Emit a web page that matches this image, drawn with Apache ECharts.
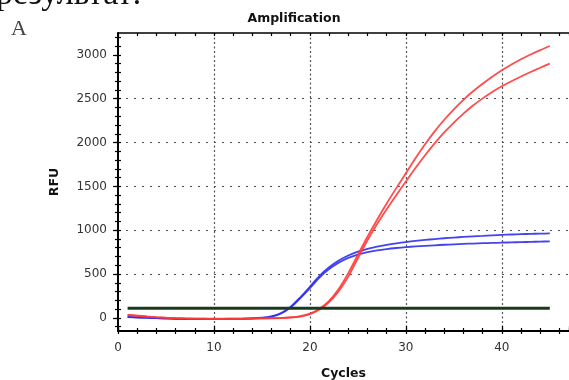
<!DOCTYPE html>
<html><head><meta charset="utf-8">
<script src="https://cdn.jsdelivr.net/npm/echarts@6/dist/echarts.min.js"></script>
<style>html,body{margin:0;padding:0;background:#fff}#c{width:569px;height:380px}</style>
</head><body><div id="c"></div>
<script>
const cycles = [1,2,3,4,5,6,7,8,9,10,11,12,13,14,15,16,17,18,19,20,21,22,23,24,25,26,27,28,29,30,31,32,33,34,35,36,37,38,39,40,41,42,43,44,45];
const blueUpper = [10,6,2,-3,-7,-10,-12,-13,-14,-14,-13,-12,-10,-6,2,18,55,128,235,355,480,578,655,712,755,788,813,833,850,865,878,889,899,908,916,923,930,936,942,947,951,955,958,961,963];
const blueLower = [8,4,0,-4,-8,-11,-13,-14,-15,-15,-14,-13,-11,-7,0,15,50,120,225,340,460,556,630,684,722,750,770,785,797,807,815,822,828,834,839,844,848,852,855,858,861,864,867,870,872];
const redUpper = [35,26,16,8,2,-3,-6,-8,-9,-10,-10,-10,-9,-8,-6,-4,0,6,20,48,105,195,330,510,720,925,1120,1305,1480,1650,1820,1980,2127,2260,2380,2488,2585,2672,2752,2826,2890,2950,3005,3055,3102];
const redLower = [30,22,13,6,0,-4,-7,-9,-10,-11,-11,-10,-10,-9,-7,-5,-2,4,15,42,95,180,305,470,680,885,1070,1240,1400,1555,1710,1856,1991,2115,2228,2330,2422,2504,2577,2642,2700,2754,2805,2854,2901];
const thresholdCycles = [1,45];
const thresholdValue = 110;
const xTickLabels = [0,10,20,30,40];
const yTickLabels = [0,500,1000,1500,2000,2500,3000];

const yMinor = []; for (let v=-100; v<=3200; v+=100) yMinor.push(v);
const pairs = arr => cycles.map((c,i)=>[c,arr[i]]);
const FONT = 'DejaVu Sans';
const chart = echarts.init(document.getElementById('c'), null, {renderer:'canvas'});
const lineSeries = (name, arr, color) => ({
  name, type:'line', data: pairs(arr), showSymbol:false, smooth:0.3,
  lineStyle:{color, width:1.8, opacity:0.9}, xAxisIndex:0, yAxisIndex:0, z:3, animation:false
});
const base = {type:'value', min:0, max:47, gridIndex:0};
const ybase = {type:'value', min:-150, max:3250, gridIndex:0};
chart.setOption({
  animation:false,
  title:{text:'Amplification', left:289, top:7, textAlign:'center',
    textStyle:{fontFamily:FONT, fontSize:12.5, fontWeight:'bold', color:'#111'}},
  graphic:[
    {type:'text', left:-4, top:-22, style:{text:'результат:', font:'34px "Liberation Serif"', fill:'#111'}},
    {type:'text', left:11, top:18, style:{text:'А', font:'22px "Liberation Serif"', fill:'#444'}}
  ],
  grid:{left:118, top:33, right:0, bottom:49, outerBoundsMode:'none', containLabel:false},
  xAxis:[
    Object.assign({}, base, {interval:2, position:'bottom',
      axisLine:{show:true, onZero:false, lineStyle:{color:'#000', width:2}},
      axisTick:{show:true, inside:false, length:3, lineStyle:{color:'#000', width:1.2}},
      axisLabel:{margin:11, fontFamily:FONT, fontSize:12, color:'#333', showMaxLabel:false,
        formatter: v => xTickLabels.includes(v) ? String(v) : ''},
      splitLine:{show:false},
      name:'Cycles', nameLocation:'middle', nameGap:36,
      nameTextStyle:{fontFamily:FONT, fontSize:12.5, fontWeight:'bold', color:'#111'}}),
    Object.assign({}, base, {interval:2, position:'bottom',
      axisLine:{show:false, onZero:false}, axisTick:{show:true, inside:true, length:3, lineStyle:{color:'#000', width:1.2}},
      axisLabel:{show:false}, splitLine:{show:false}}),
    Object.assign({}, base, {interval:10, position:'bottom',
      axisLine:{show:false, onZero:false}, axisTick:{show:true, inside:true, length:5, lineStyle:{color:'#000', width:1.2}},
      axisLabel:{show:false},
      splitLine:{show:true, showMinLine:false, showMaxLine:false, lineStyle:{color:'#555', width:1.2, type:[2,2.5]}}}),
    Object.assign({}, base, {interval:2, position:'top',
      axisLine:{show:true, onZero:false, lineStyle:{color:'#000', width:1.5}},
      axisTick:{show:true, inside:true, length:3, lineStyle:{color:'#000', width:1.2}},
      axisLabel:{show:false}, splitLine:{show:false}})
  ],
  yAxis:[
    Object.assign({}, ybase, {position:'left',
      axisLine:{show:true, onZero:false, lineStyle:{color:'#000', width:2}},
      axisTick:{show:true, inside:false, length:3, customValues:yMinor, lineStyle:{color:'#000', width:1.2}},
      axisLabel:{customValues:yTickLabels, margin:11, fontFamily:FONT, fontSize:12, color:'#333',
        formatter: v => String(v)},
      splitLine:{show:false},
      name:'RFU', nameLocation:'middle', nameGap:57, nameRotate:90,
      nameTextStyle:{fontFamily:FONT, fontSize:12.5, fontWeight:'bold', color:'#111'}}),
    Object.assign({}, ybase, {position:'left',
      axisLine:{show:false, onZero:false},
      axisTick:{show:true, inside:true, length:3, customValues:yMinor, lineStyle:{color:'#000', width:1.2}},
      axisLabel:{show:false}, splitLine:{show:false}}),
    Object.assign({}, ybase, {position:'left',
      axisLine:{show:false, onZero:false},
      axisTick:{show:true, inside:false, length:5, customValues:yTickLabels, lineStyle:{color:'#000', width:1.2}},
      axisLabel:{show:false},
      splitLine:{show:true, showMinLine:false, showMaxLine:false, lineStyle:{color:'#555', width:1.2, type:[2,6]}}})
  ],
  series:[
    lineSeries('blue1', blueUpper, '#2f2fee'),
    lineSeries('blue2', blueLower, '#2f2fee'),
    lineSeries('red1', redUpper, '#ff3838'),
    lineSeries('red2', redLower, '#ff3838'),
    {name:'threshold', type:'line', data: thresholdCycles.map(c=>[c,thresholdValue]), showSymbol:false,
      lineStyle:{color:'#1b3a1b', width:3}, xAxisIndex:0, yAxisIndex:0, z:4}
  ]
});
</script></body></html>
